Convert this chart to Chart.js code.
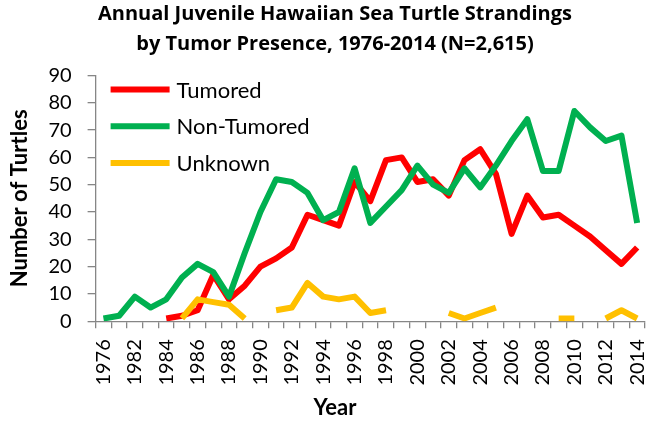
<!DOCTYPE html>
<html>
<head>
<meta charset="utf-8">
<script src="https://cdn.jsdelivr.net/npm/chart.js@4"></script>
<style>
  html, body { margin: 0; padding: 0; background: #fff; }
  #wrap { width: 657px; height: 423px; }
</style>
</head>
<body>
<div id="wrap"><canvas id="c" width="657" height="423"></canvas></div>
<script>
// Categories (index 1 is an unlabeled year between 1976 and 1982)
const years = ['1976','1980','1982','1983','1984','1985','1986','1987','1988','1989','1990',
  '1991','1992','1993','1994','1995','1996','1997','1998','1999','2000',
  '2001','2002','2003','2004','2005','2006','2007','2008','2009','2010',
  '2011','2012','2013','2014'];

const tumored = [null,null,null,null,1,2,4,17,8,13,20,
  23,27,39,37,35,51,44,59,60,51,
  52,46,59,63,54,32,46,38,39,35,
  31,26,21,27];

const nonTumored = [1,2,9,5,8,16,21,18,9,25,40,
  52,51,47,37,40,56,36,42,48,57,
  50,47,56,49,57,66,74,55,55,77,
  71,66,68,36];

const unknown = [null,null,null,null,null,1,8,7,6,1,null,
  4,5,14,9,8,9,3,4,null,null,
  null,3,1,3,5,null,null,null,1,1,
  null,1,4,1];

const seriesNames = ['Tumored','Non-Tumored','Unknown'];
const titleLines = ['Annual Juvenile Hawaiian Sea Turtle Strandings', 'by Tumor Presence, 1976-2014 (N=2,615)'];
const yTitle = 'Number of Turtles';
const xTitle = 'Year';

const insideLegend = {
  id: 'insideLegend',
  afterDatasetsDraw(chart) {
    const { ctx, chartArea } = chart;
    chart.data.datasets.forEach((ds, i) => {
      const y = chartArea.top + 14 + i * 36.7;
      const x0 = chartArea.left + 15;
      ctx.save();
      ctx.strokeStyle = ds.borderColor;
      ctx.lineWidth = 6;
      ctx.lineCap = 'butt';
      ctx.beginPath();
      ctx.moveTo(x0, y);
      ctx.lineTo(x0 + 59, y);
      ctx.stroke();
      ctx.fillStyle = '#000';
      ctx.font = '22px Lato';
      ctx.textBaseline = 'middle';
      ctx.textAlign = 'left';
      ctx.fillText(ds.label, x0 + 66, y + 1);
      ctx.restore();
    });
  }
};

function build() {
  const common = { borderWidth: 6, pointRadius: 0, pointHoverRadius: 0, fill: false, tension: 0,
                   borderJoinStyle: 'round', borderCapStyle: 'butt', spanGaps: false };
  new Chart(document.getElementById('c'), {
    type: 'line',
    data: {
      labels: years,
      datasets: [
        Object.assign({ label: seriesNames[0], data: tumored, borderColor: '#FF0000', backgroundColor: '#FF0000', order: 3 }, common),
        Object.assign({ label: seriesNames[1], data: nonTumored, borderColor: '#00B050', backgroundColor: '#00B050', order: 2 }, common),
        Object.assign({ label: seriesNames[2], data: unknown, borderColor: '#FFC000', backgroundColor: '#FFC000', order: 1 }, common)
      ]
    },
    options: {
      responsive: false,
      animation: false,
      devicePixelRatio: 1,
      layout: { padding: { left: 25, right: 12, top: 0, bottom: 0 } },
      plugins: {
        legend: { display: false },
        tooltip: { enabled: false },
        title: {
          display: true,
          text: titleLines,
          color: '#000',
          font: { family: 'Open Sans', size: 20, weight: 'bold', lineHeight: 1.475 },
          padding: { top: 0, bottom: 16.5 }
        },
        subtitle: {
          display: true,
          position: 'bottom',
          text: xTitle,
          color: '#000',
          font: { family: 'Lato', size: 22, weight: 'bold', lineHeight: 1.2 },
          padding: { top: -2, bottom: 2 }
        }
      },
      scales: {
        x: {
          type: 'category',
          offset: true,
          afterFit(scale) { scale.paddingLeft = 0; scale.paddingRight = 0; },
          grid: { offset: true, drawOnChartArea: false, drawTicks: true, tickLength: 7, color: '#868686', lineWidth: 1.3 },
          border: { display: true, color: '#868686', width: 1.3 },
          ticks: {
            autoSkip: false, maxRotation: 90, minRotation: 90, padding: 11,
            color: '#000', font: { family: 'Lato', size: 20 },
            callback: function (v, i) { return i % 2 === 0 ? this.getLabelForValue(v) : ''; }
          }
        },
        y: {
          min: 0, max: 90,
          grid: { drawOnChartArea: false, drawTicks: true, tickLength: 8, color: '#868686', lineWidth: 1.3 },
          border: { display: true, color: '#868686', width: 1.3 },
          ticks: { autoSkip: false, stepSize: 10, padding: 16, color: '#000', font: { family: 'Lato', size: 20 } },
          title: {
            display: true, text: yTitle, color: '#000',
            font: { family: 'Lato', size: 22, weight: 'bold', lineHeight: 1.2 },
            padding: { top: -18, bottom: -1 }
          }
        }
      }
    },
    plugins: [insideLegend]
  });
}

if (document.fonts && document.fonts.load) {
  Promise.all([document.fonts.load('20px Lato'), document.fonts.load('bold 20px Lato'),
               document.fonts.load('bold 20px "Open Sans"')]).then(build, build);
} else { build(); }
</script>
</body>
</html>
